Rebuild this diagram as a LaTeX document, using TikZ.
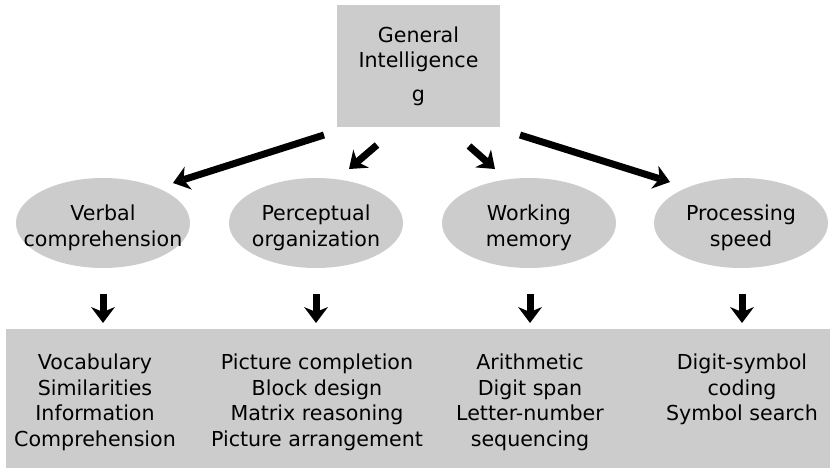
\documentclass[tikz,border=0pt]{standalone}
\usepackage{fontspec}
\setmainfont{DejaVu Sans}
\usetikzlibrary{arrows.meta,shapes.geometric}
\definecolor{boxgray}{HTML}{CCCCCC}
\tikzset{
  txt/.style={font=\fontsize{20.6}{25.4}\selectfont, align=center, inner sep=0pt},
  greybox/.style={rectangle, fill=boxgray, inner sep=0pt},
  oval/.style={ellipse, fill=boxgray, minimum width=174pt, minimum height=90pt, inner sep=0pt},
  arr/.style={line width=7pt, -{Stealth[length=16pt,width=24pt,inset=5pt,line width=0pt]}},
}
\begin{document}
\begin{tikzpicture}[x=1pt,y=-1pt]
\useasboundingbox (0,0) rectangle (831,470);
% top box
\node[greybox, txt, minimum width=163pt, minimum height=122pt] (g) at (418.5,66) {General\\Intelligence\\[8pt]g};
% ellipses
\node[oval] (v) at (103,223) {};
\node[oval] (p) at (316,223) {};
\node[oval] (w) at (529,223) {};
\node[oval] (s) at (741,223) {};
\node[txt] (vt) at (103,228) {Verbal\\comprehension};
\node[txt] (pt) at (316,228) {Perceptual\\organization};
\node[txt] (wt) at (529,228) {Working\\memory};
\node[txt] (st) at (741,228) {Processing\\speed};
% bottom box
\node[greybox, minimum width=824pt, minimum height=139pt] (b) at (418,398.5) {};
\node[txt, anchor=north] (bv) at (95,354) {Vocabulary\\Similarities\\Information\\Comprehension};
\node[txt, anchor=north] (bp) at (317,354) {Picture completion\\Block design\\Matrix reasoning\\Picture arrangement};
\node[txt, anchor=north] (bw) at (530,354) {Arithmetic\\Digit span\\Letter-number\\sequencing};
\node[txt, anchor=north] (bs) at (742,354) {Digit-symbol\\coding\\Symbol search};
% diagonal arrows
\coordinate (a1s) at (324,135); \coordinate (a1e) at (173,183);
\coordinate (a2s) at (377,145); \coordinate (a2e) at (349,169);
\coordinate (a3s) at (469,146); \coordinate (a3e) at (495,169);
\coordinate (a4s) at (520,135); \coordinate (a4e) at (670,182);
\draw[arr] (a1s) -- (a1e);
\draw[arr] (a2s) -- (a2e);
\draw[arr] (a3s) -- (a3e);
\draw[arr] (a4s) -- (a4e);
% down arrows
\coordinate (d1s) at (103,294); \coordinate (d1e) at (103,323);
\coordinate (d2s) at (316,294); \coordinate (d2e) at (316,323);
\coordinate (d3s) at (530,294); \coordinate (d3e) at (530,323);
\coordinate (d4s) at (742,294); \coordinate (d4e) at (742,323);
\draw[arr] (d1s) -- (d1e);
\draw[arr] (d2s) -- (d2e);
\draw[arr] (d3s) -- (d3e);
\draw[arr] (d4s) -- (d4e);
\end{tikzpicture}
\end{document}
